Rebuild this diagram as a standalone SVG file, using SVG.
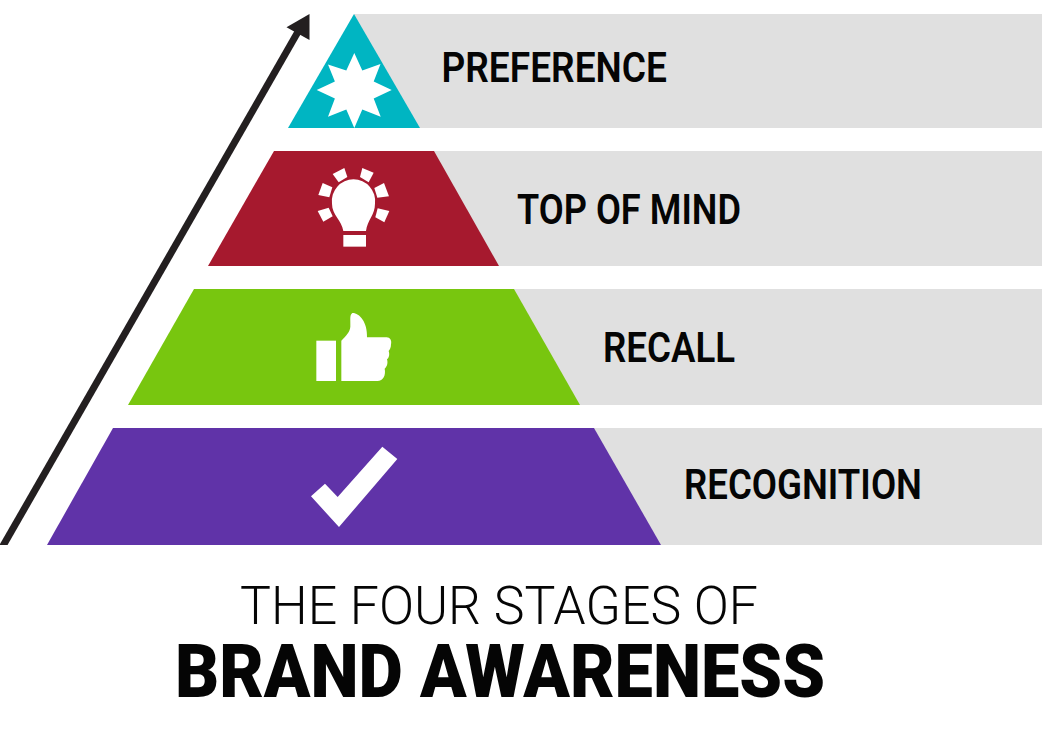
<svg xmlns="http://www.w3.org/2000/svg" width="1042" height="733" viewBox="0 0 1042 733">
<style>
.bar{fill:#e0e0e0}
.ico{fill:#fff}
text{font-family:Roboto,"Liberation Sans",sans-serif;fill:#050505}
.lb{font-size:42px;font-weight:600}
.t1{font-size:53px;font-weight:300}
.t2{font-size:75px;font-weight:900}
</style>
<defs><clipPath id="c"><rect x="0" y="0" width="320" height="545"/></clipPath></defs>
<rect width="1042" height="733" fill="#fff"/>
<g id="connectors">
<line x1="1.8" y1="548" x2="299" y2="30" stroke="#231f20" stroke-width="7" clip-path="url(#c)"/>
<polygon points="309.5,14 309.5,40 286.5,27.3" fill="#231f20"/>
</g>
<g id="preference">
<rect class="bar" x="354" y="14" width="688" height="114"/>
<polygon points="354,14 420,128 288,128" fill="#00b5c2"/>
<polygon class="ico" points="354.3,53 362.3,70.6 380.5,64 373.7,81.6 391.7,90 373.7,98.4 380.7,116.7 362.3,109.4 354.3,128 346.3,109.4 328,116.7 334.9,98.4 316.7,90 334.9,81.6 328,64.5 346.3,70.6"/>
<text class="lb" x="441.5" y="81.5" textLength="225.5" lengthAdjust="spacingAndGlyphs">PREFERENCE</text>
</g>
<g id="top-of-mind">
<rect class="bar" x="354" y="151" width="688" height="115"/>
<polygon points="274,151 434,151 499,266 208,266" fill="#a6192e"/>
<g class="ico" transform="translate(290 155) scale(.3333)">
<path d="M160 228C155 195 126 180 126 146A65 65 0 1 1 255 146C255 180 232 195 228 228Z"/>
<rect x="160" y="240" width="68" height="35"/>
<polygon points="128,57 163,39 172,66 146,82"/>
<polygon points="217,39 251,53 236,82 210,66"/>
<polygon points="98,84 127,97 118,127 85,120"/>
<polygon points="282,84 297,124 262,128 253,99"/>
<polygon points="83,168 116,158 128,184 100,200"/>
<polygon points="263,160 298,168 283,202 256,187"/>
</g>
<text class="lb" x="517" y="224" textLength="224" lengthAdjust="spacingAndGlyphs">TOP OF MIND</text>
</g>
<g id="recall">
<rect class="bar" x="354" y="289" width="688" height="116"/>
<polygon points="194,289 514,289 580,405 128,405" fill="#78c60f"/>
<g class="ico" transform="translate(290 300) scale(.3333)">
<rect x="79" y="122" width="59" height="121"/>
<path d="M154 122C170 105 180 95 181 80C182 60 178 45 187 39C207 38 233 65 231 112H290C300 112 306 122 303 133C303 142 300 150 296 153C300 165 296 175 291 178C295 190 290 202 284 206C288 225 280 243 262 243H154Z"/>
</g>
<text class="lb" x="603" y="362" textLength="132" lengthAdjust="spacingAndGlyphs">RECALL</text>
</g>
<g id="recognition">
<rect class="bar" x="354" y="428" width="688" height="117"/>
<polygon points="113,428 594,428 661,545 47,545" fill="#6033a8"/>
<polygon class="ico" transform="translate(290 435) scale(.3333)" points="277,35 322,72 147,276 63,184 105,146 143,186"/>
<text class="lb" x="684" y="499" textLength="238" lengthAdjust="spacingAndGlyphs">RECOGNITION</text>
</g>
<g id="title">
<text class="t1" x="240" y="624.3" textLength="518" lengthAdjust="spacingAndGlyphs">THE FOUR STAGES OF</text>
<text class="t2" x="175" y="696.5" textLength="650" lengthAdjust="spacingAndGlyphs">BRAND AWARENESS</text>
</g>
</svg>
